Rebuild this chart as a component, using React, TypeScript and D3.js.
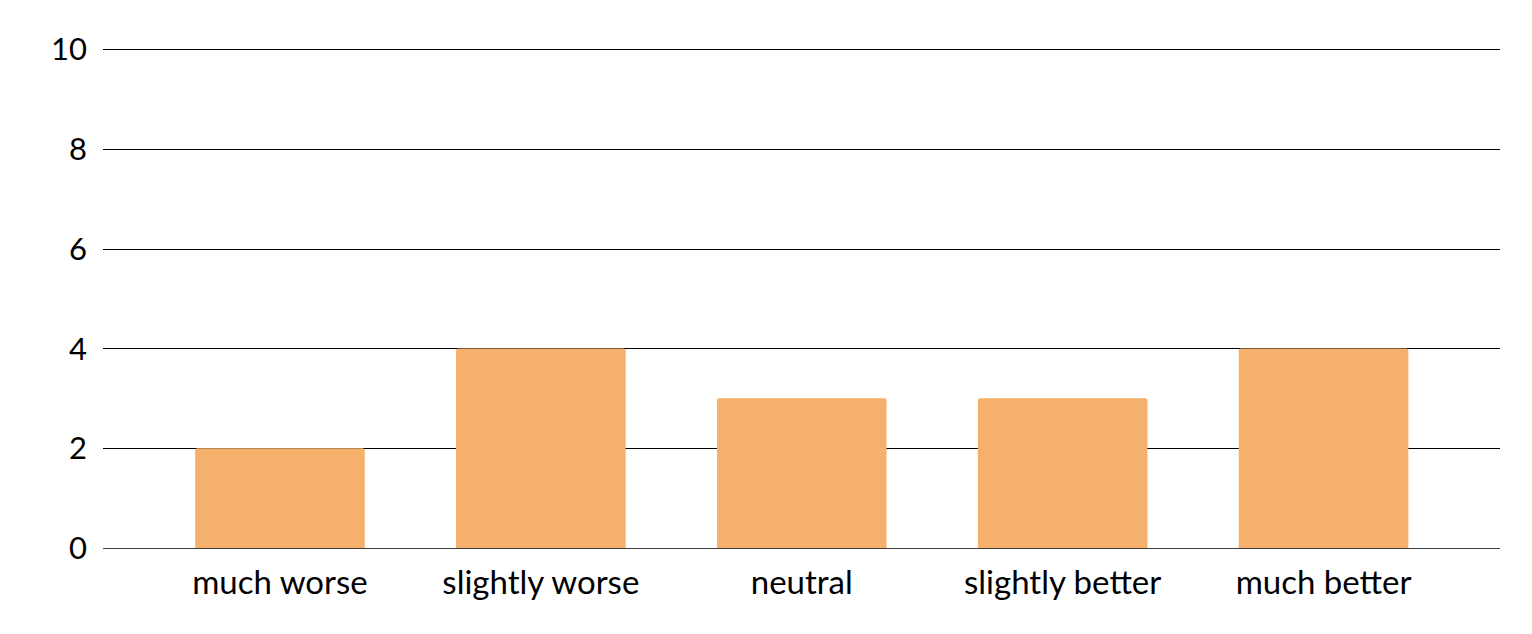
import React from "react";
import * as d3 from "d3";

const categories = ["much worse", "slightly worse", "neutral", "slightly better", "much better"];
const values = [2, 4, 3, 3, 4];
const yTicks = [0, 2, 4, 6, 8, 10];

const W = 1532;
const H = 634;
const gridLeft = 103;
const gridRight = 1500;
const bandLeft = 149.5;
const bandRight = 1454;
const yTop = 49;
const yBottom = 548;
const FONT = "Lato, 'Open Sans', sans-serif";

export default function App() {
  const x = d3.scaleBand<string>().domain(categories).range([bandLeft, bandRight]).paddingInner(0.35).paddingOuter(0.175);
  const y = d3.scaleLinear().domain([0, 10]).range([yBottom, yTop]);
  return (
    <svg width={W} height={H} style={{ position: "absolute", left: 0, top: 0 }}>
      <rect width={W} height={H} fill="#fff" />
      {yTicks.map((t) => (
        <g key={t}>
          <line
            x1={gridLeft}
            x2={gridRight}
            y1={Math.round(y(t)) + 0.5}
            y2={Math.round(y(t)) + 0.5}
            stroke={t === 0 ? "#404040" : "#000"}
            strokeWidth={1}
          />
          <text x={87} y={y(t)} dy="0.36em" textAnchor="end" fontFamily={FONT} fontSize={31} fill="#000">
            {t}
          </text>
        </g>
      ))}
      {categories.map((c, i) => (
        <path
          key={c}
          d={(() => {
            const x0 = x(c)!;
            const w = x.bandwidth();
            const y0 = y(values[i]);
            const y1 = y(0);
            const r = 2;
            return `M${x0},${y1}V${y0 + r}Q${x0},${y0} ${x0 + r},${y0}H${x0 + w - r}Q${x0 + w},${y0} ${x0 + w},${y0 + r}V${y1}Z`;
          })()}
          fill="#F5B06B"
        />
      ))}
      {categories.map((c) => (
        <text
          key={c}
          x={x(c)! + x.bandwidth() / 2}
          y={582}
          dy="0.36em"
          textAnchor="middle"
          fontFamily={FONT}
          fontSize={33}
          fill="#000"
        >
          {c}
        </text>
      ))}
    </svg>
  );
}
